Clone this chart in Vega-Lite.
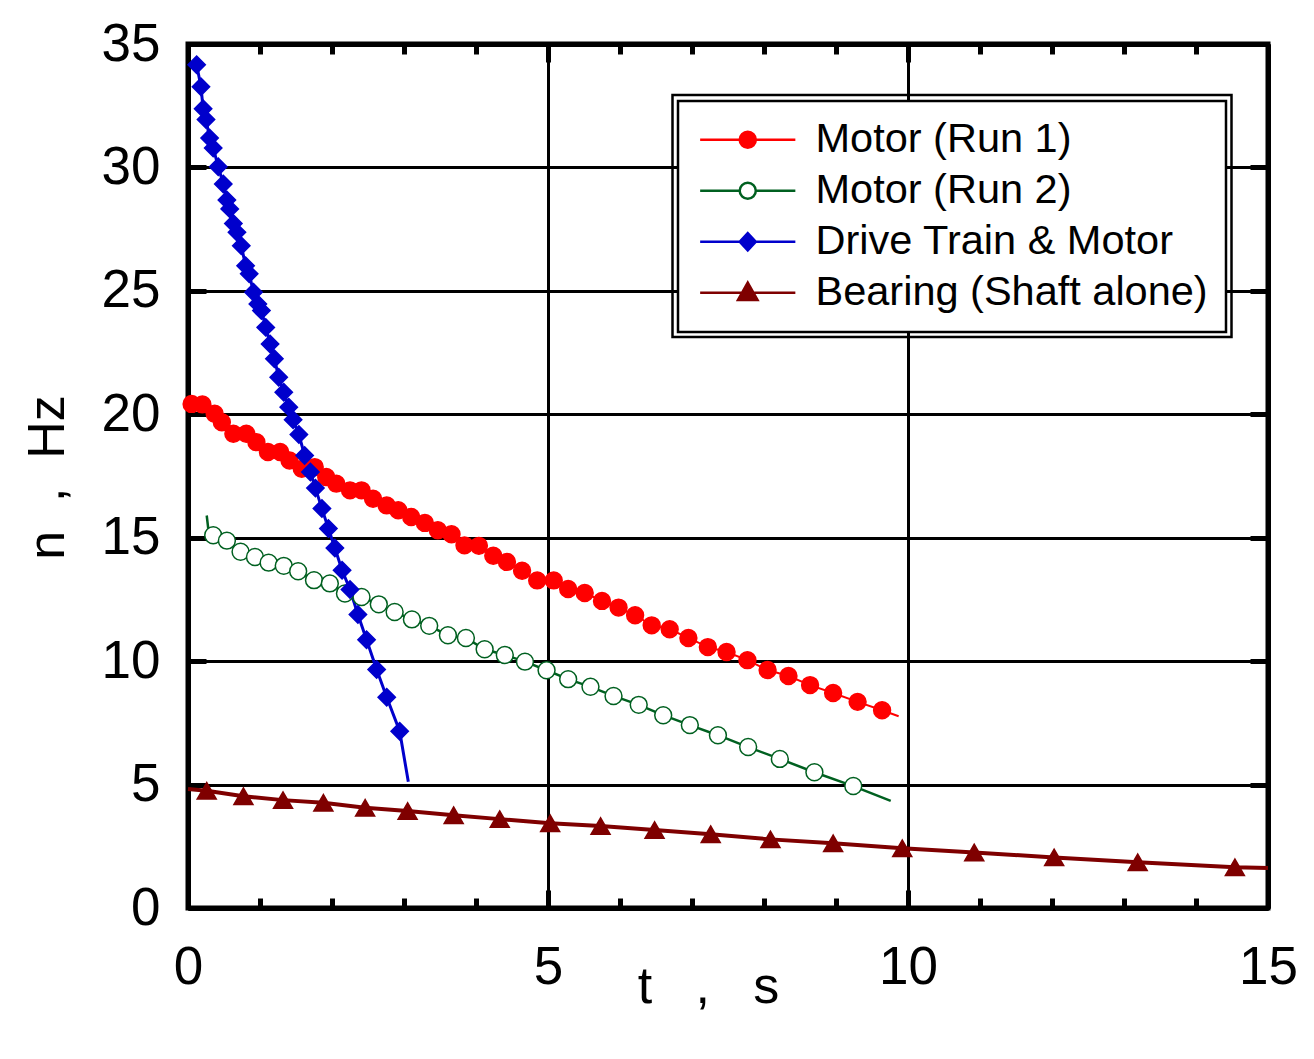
{
  "$schema": "https://vega.github.io/schema/vega-lite/v6.json",
  "description": "Coast-down of rotational speed n versus time t",
  "width": 1080,
  "height": 864,
  "autosize": "none",
  "padding": {"left": 188, "top": 44, "right": 46, "bottom": 151},
  "background": "white",
  "config": {
    "view": {"stroke": "black", "strokeWidth": 5},
    "font": "Liberation Sans",
    "legend": {"strokeWidth": 2.5},
    "axis": {
      "domainColor": "black", "domainWidth": 5,
      "tickColor": "black", "tickWidth": 5,
      "labelColor": "black", "labelFont": "Liberation Sans", "labelFontSize": 53,
      "titleColor": "black", "titleFont": "Liberation Sans", "titleFontSize": 52, "titleFontWeight": "normal",
      "gridColor": "black", "gridWidth": 3
    }
  },
  "datasets": {
    "curves": [
      {"series": "Motor (Run 1)", "t": 0.0, "n": 20.40},
      {"series": "Motor (Run 1)", "t": 0.05, "n": 20.42},
      {"series": "Motor (Run 1)", "t": 0.20, "n": 20.40},
      {"series": "Motor (Run 1)", "t": 0.37, "n": 20.02},
      {"series": "Motor (Run 1)", "t": 0.47, "n": 19.68},
      {"series": "Motor (Run 1)", "t": 0.63, "n": 19.21},
      {"series": "Motor (Run 1)", "t": 0.81, "n": 19.21},
      {"series": "Motor (Run 1)", "t": 0.95, "n": 18.87},
      {"series": "Motor (Run 1)", "t": 1.11, "n": 18.47},
      {"series": "Motor (Run 1)", "t": 1.28, "n": 18.47},
      {"series": "Motor (Run 1)", "t": 1.41, "n": 18.13},
      {"series": "Motor (Run 1)", "t": 1.58, "n": 17.79},
      {"series": "Motor (Run 1)", "t": 1.76, "n": 17.86},
      {"series": "Motor (Run 1)", "t": 1.92, "n": 17.46},
      {"series": "Motor (Run 1)", "t": 2.06, "n": 17.19},
      {"series": "Motor (Run 1)", "t": 2.25, "n": 16.92},
      {"series": "Motor (Run 1)", "t": 2.41, "n": 16.92},
      {"series": "Motor (Run 1)", "t": 2.57, "n": 16.58},
      {"series": "Motor (Run 1)", "t": 2.76, "n": 16.31},
      {"series": "Motor (Run 1)", "t": 2.92, "n": 16.11},
      {"series": "Motor (Run 1)", "t": 3.10, "n": 15.84},
      {"series": "Motor (Run 1)", "t": 3.29, "n": 15.60},
      {"series": "Motor (Run 1)", "t": 3.47, "n": 15.30},
      {"series": "Motor (Run 1)", "t": 3.66, "n": 15.14},
      {"series": "Motor (Run 1)", "t": 3.84, "n": 14.69},
      {"series": "Motor (Run 1)", "t": 4.04, "n": 14.67},
      {"series": "Motor (Run 1)", "t": 4.24, "n": 14.27},
      {"series": "Motor (Run 1)", "t": 4.43, "n": 14.02},
      {"series": "Motor (Run 1)", "t": 4.64, "n": 13.66},
      {"series": "Motor (Run 1)", "t": 4.85, "n": 13.27},
      {"series": "Motor (Run 1)", "t": 5.08, "n": 13.27},
      {"series": "Motor (Run 1)", "t": 5.28, "n": 12.92},
      {"series": "Motor (Run 1)", "t": 5.51, "n": 12.76},
      {"series": "Motor (Run 1)", "t": 5.75, "n": 12.44},
      {"series": "Motor (Run 1)", "t": 5.98, "n": 12.17},
      {"series": "Motor (Run 1)", "t": 6.21, "n": 11.86},
      {"series": "Motor (Run 1)", "t": 6.44, "n": 11.45},
      {"series": "Motor (Run 1)", "t": 6.69, "n": 11.29},
      {"series": "Motor (Run 1)", "t": 6.95, "n": 10.94},
      {"series": "Motor (Run 1)", "t": 7.22, "n": 10.57},
      {"series": "Motor (Run 1)", "t": 7.48, "n": 10.37},
      {"series": "Motor (Run 1)", "t": 7.77, "n": 10.04},
      {"series": "Motor (Run 1)", "t": 8.05, "n": 9.64},
      {"series": "Motor (Run 1)", "t": 8.34, "n": 9.40},
      {"series": "Motor (Run 1)", "t": 8.64, "n": 9.03},
      {"series": "Motor (Run 1)", "t": 8.96, "n": 8.71},
      {"series": "Motor (Run 1)", "t": 9.30, "n": 8.35},
      {"series": "Motor (Run 1)", "t": 9.64, "n": 8.01},
      {"series": "Motor (Run 1)", "t": 9.87, "n": 7.77},
      {"series": "Motor (Run 2)", "t": 0.26, "n": 15.90},
      {"series": "Motor (Run 2)", "t": 0.28, "n": 15.40},
      {"series": "Motor (Run 2)", "t": 0.35, "n": 15.10},
      {"series": "Motor (Run 2)", "t": 0.54, "n": 14.88},
      {"series": "Motor (Run 2)", "t": 0.73, "n": 14.43},
      {"series": "Motor (Run 2)", "t": 0.93, "n": 14.22},
      {"series": "Motor (Run 2)", "t": 1.12, "n": 13.99},
      {"series": "Motor (Run 2)", "t": 1.33, "n": 13.86},
      {"series": "Motor (Run 2)", "t": 1.53, "n": 13.64},
      {"series": "Motor (Run 2)", "t": 1.75, "n": 13.28},
      {"series": "Motor (Run 2)", "t": 1.97, "n": 13.15},
      {"series": "Motor (Run 2)", "t": 2.18, "n": 12.74},
      {"series": "Motor (Run 2)", "t": 2.41, "n": 12.60},
      {"series": "Motor (Run 2)", "t": 2.65, "n": 12.30},
      {"series": "Motor (Run 2)", "t": 2.87, "n": 11.99},
      {"series": "Motor (Run 2)", "t": 3.11, "n": 11.69},
      {"series": "Motor (Run 2)", "t": 3.35, "n": 11.43},
      {"series": "Motor (Run 2)", "t": 3.61, "n": 11.05},
      {"series": "Motor (Run 2)", "t": 3.86, "n": 10.94},
      {"series": "Motor (Run 2)", "t": 4.12, "n": 10.48},
      {"series": "Motor (Run 2)", "t": 4.40, "n": 10.25},
      {"series": "Motor (Run 2)", "t": 4.68, "n": 9.98},
      {"series": "Motor (Run 2)", "t": 4.98, "n": 9.63},
      {"series": "Motor (Run 2)", "t": 5.28, "n": 9.27},
      {"series": "Motor (Run 2)", "t": 5.59, "n": 8.96},
      {"series": "Motor (Run 2)", "t": 5.91, "n": 8.59},
      {"series": "Motor (Run 2)", "t": 6.26, "n": 8.23},
      {"series": "Motor (Run 2)", "t": 6.60, "n": 7.81},
      {"series": "Motor (Run 2)", "t": 6.97, "n": 7.41},
      {"series": "Motor (Run 2)", "t": 7.36, "n": 7.00},
      {"series": "Motor (Run 2)", "t": 7.78, "n": 6.52},
      {"series": "Motor (Run 2)", "t": 8.22, "n": 6.04},
      {"series": "Motor (Run 2)", "t": 8.70, "n": 5.50},
      {"series": "Motor (Run 2)", "t": 9.24, "n": 4.94},
      {"series": "Motor (Run 2)", "t": 9.76, "n": 4.34},
      {"series": "Drive Train & Motor", "t": 0.12, "n": 34.16},
      {"series": "Drive Train & Motor", "t": 0.18, "n": 33.27},
      {"series": "Drive Train & Motor", "t": 0.21, "n": 32.38},
      {"series": "Drive Train & Motor", "t": 0.25, "n": 31.94},
      {"series": "Drive Train & Motor", "t": 0.30, "n": 31.19},
      {"series": "Drive Train & Motor", "t": 0.35, "n": 30.79},
      {"series": "Drive Train & Motor", "t": 0.42, "n": 30.03},
      {"series": "Drive Train & Motor", "t": 0.49, "n": 29.33},
      {"series": "Drive Train & Motor", "t": 0.54, "n": 28.68},
      {"series": "Drive Train & Motor", "t": 0.58, "n": 28.32},
      {"series": "Drive Train & Motor", "t": 0.63, "n": 27.73},
      {"series": "Drive Train & Motor", "t": 0.68, "n": 27.37},
      {"series": "Drive Train & Motor", "t": 0.74, "n": 26.83},
      {"series": "Drive Train & Motor", "t": 0.80, "n": 26.02},
      {"series": "Drive Train & Motor", "t": 0.85, "n": 25.69},
      {"series": "Drive Train & Motor", "t": 0.91, "n": 24.94},
      {"series": "Drive Train & Motor", "t": 0.97, "n": 24.47},
      {"series": "Drive Train & Motor", "t": 1.02, "n": 24.20},
      {"series": "Drive Train & Motor", "t": 1.08, "n": 23.52},
      {"series": "Drive Train & Motor", "t": 1.14, "n": 22.85},
      {"series": "Drive Train & Motor", "t": 1.20, "n": 22.25},
      {"series": "Drive Train & Motor", "t": 1.26, "n": 21.50},
      {"series": "Drive Train & Motor", "t": 1.33, "n": 20.89},
      {"series": "Drive Train & Motor", "t": 1.40, "n": 20.29},
      {"series": "Drive Train & Motor", "t": 1.46, "n": 19.78},
      {"series": "Drive Train & Motor", "t": 1.54, "n": 19.18},
      {"series": "Drive Train & Motor", "t": 1.62, "n": 18.33},
      {"series": "Drive Train & Motor", "t": 1.70, "n": 17.66},
      {"series": "Drive Train & Motor", "t": 1.77, "n": 17.01},
      {"series": "Drive Train & Motor", "t": 1.86, "n": 16.18},
      {"series": "Drive Train & Motor", "t": 1.95, "n": 15.37},
      {"series": "Drive Train & Motor", "t": 2.04, "n": 14.58},
      {"series": "Drive Train & Motor", "t": 2.14, "n": 13.68},
      {"series": "Drive Train & Motor", "t": 2.25, "n": 12.90},
      {"series": "Drive Train & Motor", "t": 2.36, "n": 11.89},
      {"series": "Drive Train & Motor", "t": 2.48, "n": 10.87},
      {"series": "Drive Train & Motor", "t": 2.62, "n": 9.66},
      {"series": "Drive Train & Motor", "t": 2.76, "n": 8.54},
      {"series": "Drive Train & Motor", "t": 2.94, "n": 7.16},
      {"series": "Drive Train & Motor", "t": 3.06, "n": 5.11},
      {"series": "Bearing (Shaft alone)", "t": 0.0, "n": 4.82},
      {"series": "Bearing (Shaft alone)", "t": 0.26, "n": 4.75},
      {"series": "Bearing (Shaft alone)", "t": 0.77, "n": 4.53},
      {"series": "Bearing (Shaft alone)", "t": 1.32, "n": 4.37},
      {"series": "Bearing (Shaft alone)", "t": 1.88, "n": 4.26},
      {"series": "Bearing (Shaft alone)", "t": 2.46, "n": 4.06},
      {"series": "Bearing (Shaft alone)", "t": 3.05, "n": 3.93},
      {"series": "Bearing (Shaft alone)", "t": 3.69, "n": 3.76},
      {"series": "Bearing (Shaft alone)", "t": 4.33, "n": 3.60},
      {"series": "Bearing (Shaft alone)", "t": 5.03, "n": 3.43},
      {"series": "Bearing (Shaft alone)", "t": 5.73, "n": 3.32},
      {"series": "Bearing (Shaft alone)", "t": 6.48, "n": 3.16},
      {"series": "Bearing (Shaft alone)", "t": 7.26, "n": 2.99},
      {"series": "Bearing (Shaft alone)", "t": 8.09, "n": 2.78},
      {"series": "Bearing (Shaft alone)", "t": 8.96, "n": 2.62},
      {"series": "Bearing (Shaft alone)", "t": 9.92, "n": 2.42},
      {"series": "Bearing (Shaft alone)", "t": 10.92, "n": 2.25},
      {"series": "Bearing (Shaft alone)", "t": 12.03, "n": 2.05},
      {"series": "Bearing (Shaft alone)", "t": 13.19, "n": 1.85},
      {"series": "Bearing (Shaft alone)", "t": 14.54, "n": 1.65},
      {"series": "Bearing (Shaft alone)", "t": 15.0, "n": 1.62}
    ],
    "markers": [
      {"series": "Motor (Run 1)", "t": 0.05, "n": 20.42},
      {"series": "Motor (Run 1)", "t": 0.20, "n": 20.40},
      {"series": "Motor (Run 1)", "t": 0.37, "n": 20.02},
      {"series": "Motor (Run 1)", "t": 0.47, "n": 19.68},
      {"series": "Motor (Run 1)", "t": 0.63, "n": 19.21},
      {"series": "Motor (Run 1)", "t": 0.81, "n": 19.21},
      {"series": "Motor (Run 1)", "t": 0.95, "n": 18.87},
      {"series": "Motor (Run 1)", "t": 1.11, "n": 18.47},
      {"series": "Motor (Run 1)", "t": 1.28, "n": 18.47},
      {"series": "Motor (Run 1)", "t": 1.41, "n": 18.13},
      {"series": "Motor (Run 1)", "t": 1.58, "n": 17.79},
      {"series": "Motor (Run 1)", "t": 1.76, "n": 17.86},
      {"series": "Motor (Run 1)", "t": 1.92, "n": 17.46},
      {"series": "Motor (Run 1)", "t": 2.06, "n": 17.19},
      {"series": "Motor (Run 1)", "t": 2.25, "n": 16.92},
      {"series": "Motor (Run 1)", "t": 2.41, "n": 16.92},
      {"series": "Motor (Run 1)", "t": 2.57, "n": 16.58},
      {"series": "Motor (Run 1)", "t": 2.76, "n": 16.31},
      {"series": "Motor (Run 1)", "t": 2.92, "n": 16.11},
      {"series": "Motor (Run 1)", "t": 3.10, "n": 15.84},
      {"series": "Motor (Run 1)", "t": 3.29, "n": 15.60},
      {"series": "Motor (Run 1)", "t": 3.47, "n": 15.30},
      {"series": "Motor (Run 1)", "t": 3.66, "n": 15.14},
      {"series": "Motor (Run 1)", "t": 3.84, "n": 14.69},
      {"series": "Motor (Run 1)", "t": 4.04, "n": 14.67},
      {"series": "Motor (Run 1)", "t": 4.24, "n": 14.27},
      {"series": "Motor (Run 1)", "t": 4.43, "n": 14.02},
      {"series": "Motor (Run 1)", "t": 4.64, "n": 13.66},
      {"series": "Motor (Run 1)", "t": 4.85, "n": 13.27},
      {"series": "Motor (Run 1)", "t": 5.08, "n": 13.27},
      {"series": "Motor (Run 1)", "t": 5.28, "n": 12.92},
      {"series": "Motor (Run 1)", "t": 5.51, "n": 12.76},
      {"series": "Motor (Run 1)", "t": 5.75, "n": 12.44},
      {"series": "Motor (Run 1)", "t": 5.98, "n": 12.17},
      {"series": "Motor (Run 1)", "t": 6.21, "n": 11.86},
      {"series": "Motor (Run 1)", "t": 6.44, "n": 11.45},
      {"series": "Motor (Run 1)", "t": 6.69, "n": 11.29},
      {"series": "Motor (Run 1)", "t": 6.95, "n": 10.94},
      {"series": "Motor (Run 1)", "t": 7.22, "n": 10.57},
      {"series": "Motor (Run 1)", "t": 7.48, "n": 10.37},
      {"series": "Motor (Run 1)", "t": 7.77, "n": 10.04},
      {"series": "Motor (Run 1)", "t": 8.05, "n": 9.64},
      {"series": "Motor (Run 1)", "t": 8.34, "n": 9.40},
      {"series": "Motor (Run 1)", "t": 8.64, "n": 9.03},
      {"series": "Motor (Run 1)", "t": 8.96, "n": 8.71},
      {"series": "Motor (Run 1)", "t": 9.30, "n": 8.35},
      {"series": "Motor (Run 1)", "t": 9.64, "n": 8.01},
      {"series": "Motor (Run 2)", "t": 0.35, "n": 15.10},
      {"series": "Motor (Run 2)", "t": 0.54, "n": 14.88},
      {"series": "Motor (Run 2)", "t": 0.73, "n": 14.43},
      {"series": "Motor (Run 2)", "t": 0.93, "n": 14.22},
      {"series": "Motor (Run 2)", "t": 1.12, "n": 13.99},
      {"series": "Motor (Run 2)", "t": 1.33, "n": 13.86},
      {"series": "Motor (Run 2)", "t": 1.53, "n": 13.64},
      {"series": "Motor (Run 2)", "t": 1.75, "n": 13.28},
      {"series": "Motor (Run 2)", "t": 1.97, "n": 13.15},
      {"series": "Motor (Run 2)", "t": 2.18, "n": 12.74},
      {"series": "Motor (Run 2)", "t": 2.41, "n": 12.60},
      {"series": "Motor (Run 2)", "t": 2.65, "n": 12.30},
      {"series": "Motor (Run 2)", "t": 2.87, "n": 11.99},
      {"series": "Motor (Run 2)", "t": 3.11, "n": 11.69},
      {"series": "Motor (Run 2)", "t": 3.35, "n": 11.43},
      {"series": "Motor (Run 2)", "t": 3.61, "n": 11.05},
      {"series": "Motor (Run 2)", "t": 3.86, "n": 10.94},
      {"series": "Motor (Run 2)", "t": 4.12, "n": 10.48},
      {"series": "Motor (Run 2)", "t": 4.40, "n": 10.25},
      {"series": "Motor (Run 2)", "t": 4.68, "n": 9.98},
      {"series": "Motor (Run 2)", "t": 4.98, "n": 9.63},
      {"series": "Motor (Run 2)", "t": 5.28, "n": 9.27},
      {"series": "Motor (Run 2)", "t": 5.59, "n": 8.96},
      {"series": "Motor (Run 2)", "t": 5.91, "n": 8.59},
      {"series": "Motor (Run 2)", "t": 6.26, "n": 8.23},
      {"series": "Motor (Run 2)", "t": 6.60, "n": 7.81},
      {"series": "Motor (Run 2)", "t": 6.97, "n": 7.41},
      {"series": "Motor (Run 2)", "t": 7.36, "n": 7.00},
      {"series": "Motor (Run 2)", "t": 7.78, "n": 6.52},
      {"series": "Motor (Run 2)", "t": 8.22, "n": 6.04},
      {"series": "Motor (Run 2)", "t": 8.70, "n": 5.50},
      {"series": "Motor (Run 2)", "t": 9.24, "n": 4.94},
      {"series": "Drive Train & Motor", "t": 0.12, "n": 34.16},
      {"series": "Drive Train & Motor", "t": 0.18, "n": 33.27},
      {"series": "Drive Train & Motor", "t": 0.21, "n": 32.38},
      {"series": "Drive Train & Motor", "t": 0.25, "n": 31.94},
      {"series": "Drive Train & Motor", "t": 0.30, "n": 31.19},
      {"series": "Drive Train & Motor", "t": 0.35, "n": 30.79},
      {"series": "Drive Train & Motor", "t": 0.42, "n": 30.03},
      {"series": "Drive Train & Motor", "t": 0.49, "n": 29.33},
      {"series": "Drive Train & Motor", "t": 0.54, "n": 28.68},
      {"series": "Drive Train & Motor", "t": 0.58, "n": 28.32},
      {"series": "Drive Train & Motor", "t": 0.63, "n": 27.73},
      {"series": "Drive Train & Motor", "t": 0.68, "n": 27.37},
      {"series": "Drive Train & Motor", "t": 0.74, "n": 26.83},
      {"series": "Drive Train & Motor", "t": 0.80, "n": 26.02},
      {"series": "Drive Train & Motor", "t": 0.85, "n": 25.69},
      {"series": "Drive Train & Motor", "t": 0.91, "n": 24.94},
      {"series": "Drive Train & Motor", "t": 0.97, "n": 24.47},
      {"series": "Drive Train & Motor", "t": 1.02, "n": 24.20},
      {"series": "Drive Train & Motor", "t": 1.08, "n": 23.52},
      {"series": "Drive Train & Motor", "t": 1.14, "n": 22.85},
      {"series": "Drive Train & Motor", "t": 1.20, "n": 22.25},
      {"series": "Drive Train & Motor", "t": 1.26, "n": 21.50},
      {"series": "Drive Train & Motor", "t": 1.33, "n": 20.89},
      {"series": "Drive Train & Motor", "t": 1.40, "n": 20.29},
      {"series": "Drive Train & Motor", "t": 1.46, "n": 19.78},
      {"series": "Drive Train & Motor", "t": 1.54, "n": 19.18},
      {"series": "Drive Train & Motor", "t": 1.62, "n": 18.33},
      {"series": "Drive Train & Motor", "t": 1.70, "n": 17.66},
      {"series": "Drive Train & Motor", "t": 1.77, "n": 17.01},
      {"series": "Drive Train & Motor", "t": 1.86, "n": 16.18},
      {"series": "Drive Train & Motor", "t": 1.95, "n": 15.37},
      {"series": "Drive Train & Motor", "t": 2.04, "n": 14.58},
      {"series": "Drive Train & Motor", "t": 2.14, "n": 13.68},
      {"series": "Drive Train & Motor", "t": 2.25, "n": 12.90},
      {"series": "Drive Train & Motor", "t": 2.36, "n": 11.89},
      {"series": "Drive Train & Motor", "t": 2.48, "n": 10.87},
      {"series": "Drive Train & Motor", "t": 2.62, "n": 9.66},
      {"series": "Drive Train & Motor", "t": 2.76, "n": 8.54},
      {"series": "Drive Train & Motor", "t": 2.94, "n": 7.16},
      {"series": "Bearing (Shaft alone)", "t": 0.26, "n": 4.75},
      {"series": "Bearing (Shaft alone)", "t": 0.77, "n": 4.53},
      {"series": "Bearing (Shaft alone)", "t": 1.32, "n": 4.37},
      {"series": "Bearing (Shaft alone)", "t": 1.88, "n": 4.26},
      {"series": "Bearing (Shaft alone)", "t": 2.46, "n": 4.06},
      {"series": "Bearing (Shaft alone)", "t": 3.05, "n": 3.93},
      {"series": "Bearing (Shaft alone)", "t": 3.69, "n": 3.76},
      {"series": "Bearing (Shaft alone)", "t": 4.33, "n": 3.60},
      {"series": "Bearing (Shaft alone)", "t": 5.03, "n": 3.43},
      {"series": "Bearing (Shaft alone)", "t": 5.73, "n": 3.32},
      {"series": "Bearing (Shaft alone)", "t": 6.48, "n": 3.16},
      {"series": "Bearing (Shaft alone)", "t": 7.26, "n": 2.99},
      {"series": "Bearing (Shaft alone)", "t": 8.09, "n": 2.78},
      {"series": "Bearing (Shaft alone)", "t": 8.96, "n": 2.62},
      {"series": "Bearing (Shaft alone)", "t": 9.92, "n": 2.42},
      {"series": "Bearing (Shaft alone)", "t": 10.92, "n": 2.25},
      {"series": "Bearing (Shaft alone)", "t": 12.03, "n": 2.05},
      {"series": "Bearing (Shaft alone)", "t": 13.19, "n": 1.85},
      {"series": "Bearing (Shaft alone)", "t": 14.54, "n": 1.65}
    ]
  },
  "layer": [
    {
      "data": {"name": "curves"},
      "mark": {"type": "line"},
      "encoding": {
        "x": {
          "field": "t", "type": "quantitative",
          "scale": {"domain": [0, 15], "nice": false, "zero": false},
          "axis": {
            "orient": "bottom",
            "values": [0, 1, 2, 3, 4, 5, 6, 7, 8, 9, 10, 11, 12, 13, 14, 15],
            "labelExpr": "datum.value % 5 === 0 ? datum.label : ''",
            "labelBaseline": "alphabetic",
            "labelPadding": 93,
            "labelOverlap": false,
            "labelFlush": false,
            "labelBound": false,
            "grid": true,
            "gridOpacity": {"condition": {"test": "datum.value % 5 === 0", "value": 1}, "value": 0},
            "tickSize": {"condition": {"test": "datum.value % 5 === 0", "value": -18}, "value": -10},
            "title": "t\u00a0\u00a0\u00a0,\u00a0\u00a0\u00a0s",
            "titleBaseline": "alphabetic",
            "titleAlign": "center",
            "titleX": 520,
            "titleY": 94
          }
        },
        "y": {
          "field": "n", "type": "quantitative",
          "scale": {"domain": [0, 35], "nice": false, "zero": false},
          "axis": {
            "orient": "left",
            "values": [0, 5, 10, 15, 20, 25, 30, 35],
            "labelBaseline": "middle",
            "labelPadding": 46,
            "labelOverlap": false,
            "labelFlush": false,
            "labelBound": false,
            "grid": true,
            "tickSize": -18,
            "title": "n\u00a0\u00a0,\u00a0\u00a0Hz",
            "titleAngle": 270,
            "titleBaseline": "alphabetic",
            "titleAlign": "center",
            "titleX": -125,
            "titleY": 433
          }
        },
        "color": {
          "field": "series", "type": "nominal",
          "scale": {
            "domain": ["Bearing (Shaft alone)", "Drive Train & Motor", "Motor (Run 2)", "Motor (Run 1)"],
            "range": ["#7f0000", "#0000cc", "#006020", "#ff0000"]
          },
          "legend": {
            "orient": "none", "legendX": 484.5, "legendY": 51, "title": null,
            "padding": 23.5, "rowPadding": 8,
            "symbolType": "circle", "symbolSize": 196, "symbolOffset": 31, "symbolOpacity": 0,
            "labelOffset": 47, "labelOpacity": 0, "labelFont": "Liberation Sans", "labelFontSize": 41.5,
            "labelLimit": 1000, "labelBaseline": "middle",
            "strokeColor": "black", "zindex": 1
          }
        },
        "size": {
          "field": "series", "type": "nominal",
          "scale": {
            "type": "ordinal",
            "domain": ["Drive Train & Motor", "Bearing (Shaft alone)", "Motor (Run 1)", "Motor (Run 2)"],
            "range": [3, 4, 2, 2.5]
          },
          "legend": null
        }
      }
    },
    {
      "data": {"name": "markers"},
      "transform": [{"filter": {"field": "series", "oneOf": ["Motor (Run 1)", "Motor (Run 2)"]}}],
      "mark": {"type": "point", "shape": "circle", "size": 285, "filled": true, "strokeWidth": 1.5, "opacity": 1},
      "encoding": {
        "x": {
          "field": "t", "type": "quantitative",
          "axis": {
            "orient": "top",
            "values": [0, 1, 2, 3, 4, 5, 6, 7, 8, 9, 10, 11, 12, 13, 14, 15],
            "labels": false, "grid": false, "title": null,
            "tickSize": {"condition": {"test": "datum.value % 5 === 0", "value": -18}, "value": -10}
          }
        },
        "y": {
          "field": "n", "type": "quantitative",
          "axis": {
            "orient": "right",
            "values": [0, 5, 10, 15, 20, 25, 30, 35],
            "labels": false, "grid": false, "title": null,
            "tickSize": -18
          }
        },
        "fill": {
          "field": "series", "type": "nominal",
          "scale": {
            "domain": ["Motor (Run 1)", "Motor (Run 2)", "Drive Train & Motor", "Bearing (Shaft alone)"],
            "range": ["#ff0000", "#ffffff", "#0000cc", "#7f0000"]
          }
        },
        "stroke": {
          "field": "series", "type": "nominal",
          "scale": {
            "domain": ["Motor (Run 1)", "Motor (Run 2)", "Drive Train & Motor", "Bearing (Shaft alone)"],
            "range": ["#ff0000", "#006020", "#0000cc", "#7f0000"]
          }
        }
      }
    },
    {
      "data": {"name": "markers"},
      "transform": [{"filter": {"field": "series", "equal": "Drive Train & Motor"}}],
      "mark": {"type": "point", "shape": "diamond", "size": 300, "filled": true, "strokeWidth": 1.5, "opacity": 1},
      "encoding": {
        "x": {"field": "t", "type": "quantitative", "axis": null},
        "y": {"field": "n", "type": "quantitative", "axis": null},
        "fill": {"field": "series", "type": "nominal"},
        "stroke": {"field": "series", "type": "nominal"}
      }
    },
    {
      "data": {"name": "markers"},
      "transform": [{"filter": {"field": "series", "equal": "Bearing (Shaft alone)"}}],
      "mark": {"type": "point", "shape": "triangle-up", "size": 361, "filled": true, "strokeWidth": 1.5, "opacity": 1},
      "encoding": {
        "x": {"field": "t", "type": "quantitative", "axis": null},
        "y": {"field": "n", "type": "quantitative", "axis": null},
        "fill": {"field": "series", "type": "nominal"},
        "stroke": {"field": "series", "type": "nominal"}
      }
    },
    {
      "data": {"values": []},
      "mark": {"type": "point", "filled": true, "strokeWidth": 2.5, "opacity": 1},
      "encoding": {
        "shape": {
          "field": "series", "type": "nominal",
          "scale": {
            "domain": ["Motor (Run 1)", "Motor (Run 2)", "Drive Train & Motor", "Bearing (Shaft alone)"],
            "range": [
              "M-6.8,0H-1.15M1.15,0H6.8M-1.15,0A1.15,1.15,0,1,1,1.15,0A1.15,1.15,0,1,1,-1.15,0Z",
              "M-6.8,0H-1.15M1.15,0H6.8M-1.15,0A1.15,1.15,0,1,1,1.15,0A1.15,1.15,0,1,1,-1.15,0Z",
              "M-6.8,0H-1.15M1.15,0H6.8M0,-1.25L1.15,0L0,1.25L-1.15,0Z",
              "M-6.8,0H6.8M0,-1.45L1.4,1.05L-1.4,1.05Z"
            ]
          },
          "legend": {
            "orient": "none", "legendX": 490, "legendY": 57, "title": null,
            "padding": 18, "rowPadding": 8,
            "symbolSize": 196, "symbolOffset": 31, "symbolStrokeWidth": 2.5,
            "labelOffset": 47, "labelFont": "Liberation Sans", "labelFontSize": 41.5, "labelColor": "black",
            "labelLimit": 1000, "labelBaseline": "middle",
            "fillColor": "white", "strokeColor": "black", "zindex": 2
          }
        },
        "fill": {"field": "series", "type": "nominal"},
        "stroke": {"field": "series", "type": "nominal"}
      }
    }
  ],
  "resolve": {
    "axis": {"x": "independent", "y": "independent"}
  }
}
